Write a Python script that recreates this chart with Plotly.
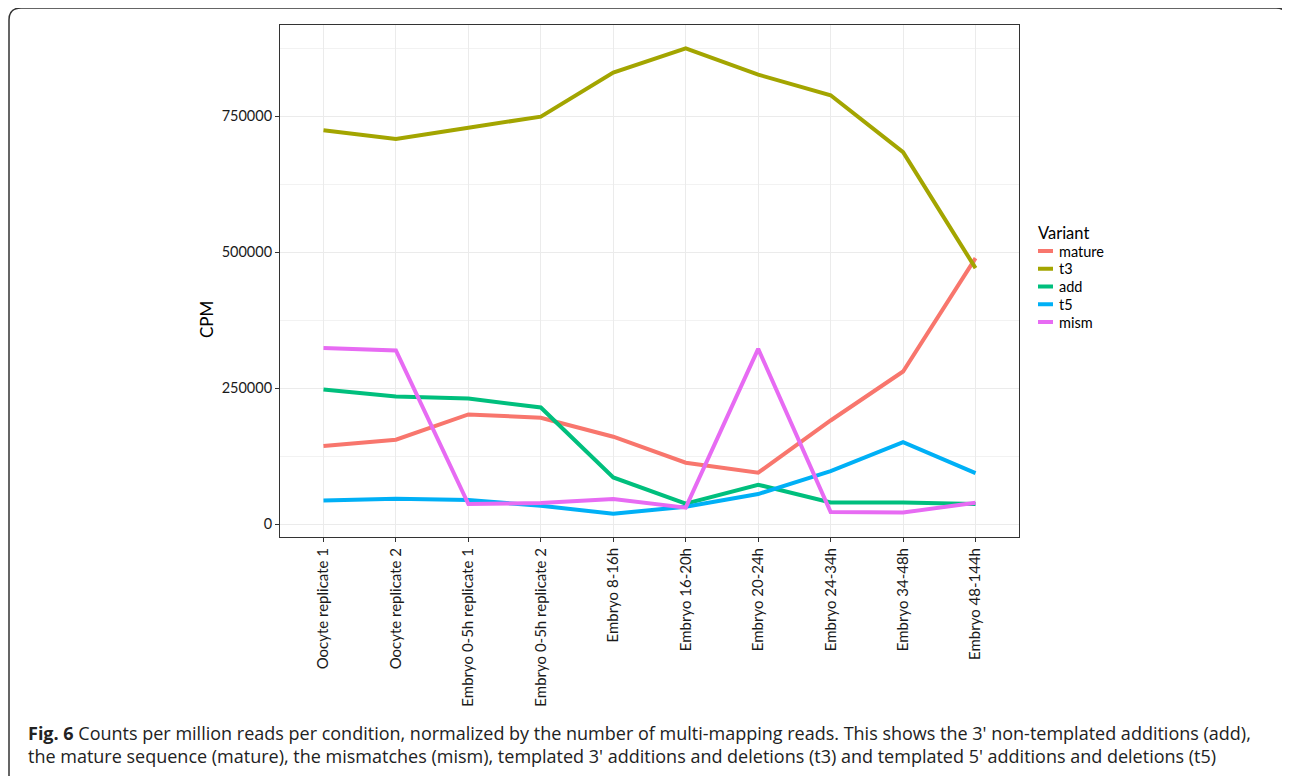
import plotly.graph_objects as go

categories = ["Oocyte replicate 1", "Oocyte replicate 2", "Embryo 0-5h replicate 1",
              "Embryo 0-5h replicate 2", "Embryo 8-16h", "Embryo 16-20h", "Embryo 20-24h",
              "Embryo 24-34h", "Embryo 34-48h", "Embryo 48-144h"]

mature = [143400, 155000, 201500, 195400, 160500, 112700, 94300, 190400, 280500, 489000]
t3 = [724300, 708300, 729000, 749300, 830200, 875000, 826500, 788600, 683800, 470600]
add = [247400, 234600, 230900, 214300, 85700, 37300, 72200, 39700, 39700, 36800]
t5 = [43400, 46500, 44100, 33600, 18900, 31800, 55100, 97400, 150700, 93700]
mism = [323500, 319100, 36800, 38600, 46000, 30000, 322200, 22000, 21000, 39200]

series_names = ["mature", "t3", "add", "t5", "mism"]
series_values = [mature, t3, add, t5, mism]
colors = ["#F8766D", "#A3A500", "#00BF7D", "#00B0F6", "#E76BF3"]

y_ticks = [0, 250000, 500000, 750000]

# page body adds an 8px offset; work in screen pixels and convert
OFF = 8
W, H = 1290 - OFF, 776 - OFF
SL, SR, ST, SB = 280, 1019, 25, 537  # plot area in screen pixels
L, R, T, B = SL - OFF, SR - OFF, ST - OFF, SB - OFF


def px(x):
    return (x - SL) / (SR - SL)


def py(y):
    return (SB - y) / (SB - ST)


fig = go.Figure()
xs = list(range(len(categories)))
for name, vals, col in zip(series_names, series_values, colors):
    fig.add_trace(go.Scatter(x=xs, y=vals, mode="lines", name=name,
                             line=dict(color=col, width=4), showlegend=False))

all_vals = [v for s in series_values for v in s]
vmin, vmax = min(all_vals), max(all_vals)
pad = (vmax - vmin) * 0.05

font = "Lato, 'Open Sans', sans-serif"

fig.update_layout(
    width=W, height=H,
    margin=dict(l=L, r=W - R, t=T, b=H - B),
    paper_bgcolor="white", plot_bgcolor="white",
    font=dict(family=font, color="#1a1a1a"),
    showlegend=False,
    xaxis=dict(
        tickmode="array", tickvals=xs, ticktext=categories, tickangle=-90,
        range=[-0.6, len(categories) - 1 + 0.6],
        showgrid=True, gridcolor="#ebebeb", gridwidth=1,
        zeroline=False, showline=True, linecolor="#333333", linewidth=1, mirror=True,
        ticks="outside", ticklen=4, tickcolor="#333333",
        tickfont=dict(size=15, color="#1a1a1a"),
    ),
    yaxis=dict(
        tickmode="array", tickvals=y_ticks, ticktext=[str(v) for v in y_ticks],
        range=[vmin - pad, vmax + pad],
        showgrid=True, gridcolor="#ebebeb", gridwidth=1,
        minor=dict(tickvals=[125000, 375000, 625000, 875000], showgrid=True,
                   gridcolor="#f2f2f2", gridwidth=1),
        zeroline=False, showline=True, linecolor="#333333", linewidth=1, mirror=True,
        ticks="outside", ticklen=4, tickcolor="#333333",
        tickfont=dict(size=14.5, color="#1a1a1a"),
    ),
)

# legend (ggplot-style, compact)
fig.add_annotation(text="Variant", x=px(1036), y=py(233), xref="paper", yref="paper",
                   showarrow=False, xanchor="left", yanchor="middle",
                   font=dict(size=16.5, color="black"))
leg_y0, leg_dy = 251, 17.75
for i, (name, col) in enumerate(zip(series_names, colors)):
    yy = leg_y0 + i * leg_dy
    fig.add_shape(type="line", xref="paper", yref="paper",
                  x0=px(1038), x1=px(1053), y0=py(yy), y1=py(yy),
                  line=dict(color=col, width=4))
    fig.add_annotation(text=name, x=px(1057), y=py(yy), xref="paper", yref="paper",
                       showarrow=False, xanchor="left", yanchor="middle",
                       font=dict(size=14.5, color="black"))

# y-axis title
fig.add_annotation(text="CPM", x=px(206), y=py(320), xref="paper", yref="paper",
                   textangle=-90, showarrow=False, font=dict(size=17, color="black"),
                   xanchor="center", yanchor="middle")

# caption
caption = ("<b>Fig. 6</b> Counts per million reads per condition, normalized by the number of "
           "multi-mapping reads. This shows the 3' non-templated additions (add),<br>"
           "the mature sequence (mature), the mismatches (mism), templated 3' additions and "
           "deletions (t3) and templated 5' additions and deletions (t5)")
fig.add_annotation(text=caption, x=px(26), y=py(744), xref="paper", yref="paper",
                   showarrow=False, align="left", xanchor="left", yanchor="middle",
                   font=dict(size=18, color="#222222", family="'Open Sans', sans-serif"))

# rounded outer frame
r = 12
x0, x1, y0, y1 = 9, 1288, 8, 790
path = (f"M {px(x0)},{py(y1)} L {px(x0)},{py(y0 + r)} "
        f"Q {px(x0)},{py(y0)} {px(x0 + r)},{py(y0)} "
        f"L {px(x1 - r)},{py(y0)} Q {px(x1)},{py(y0)} {px(x1)},{py(y0 + r)} "
        f"L {px(x1)},{py(y1)}")
fig.add_shape(type="path", path=path, xref="paper", yref="paper",
              line=dict(color="#333333", width=1.5))

fig.write_html("out.html")
